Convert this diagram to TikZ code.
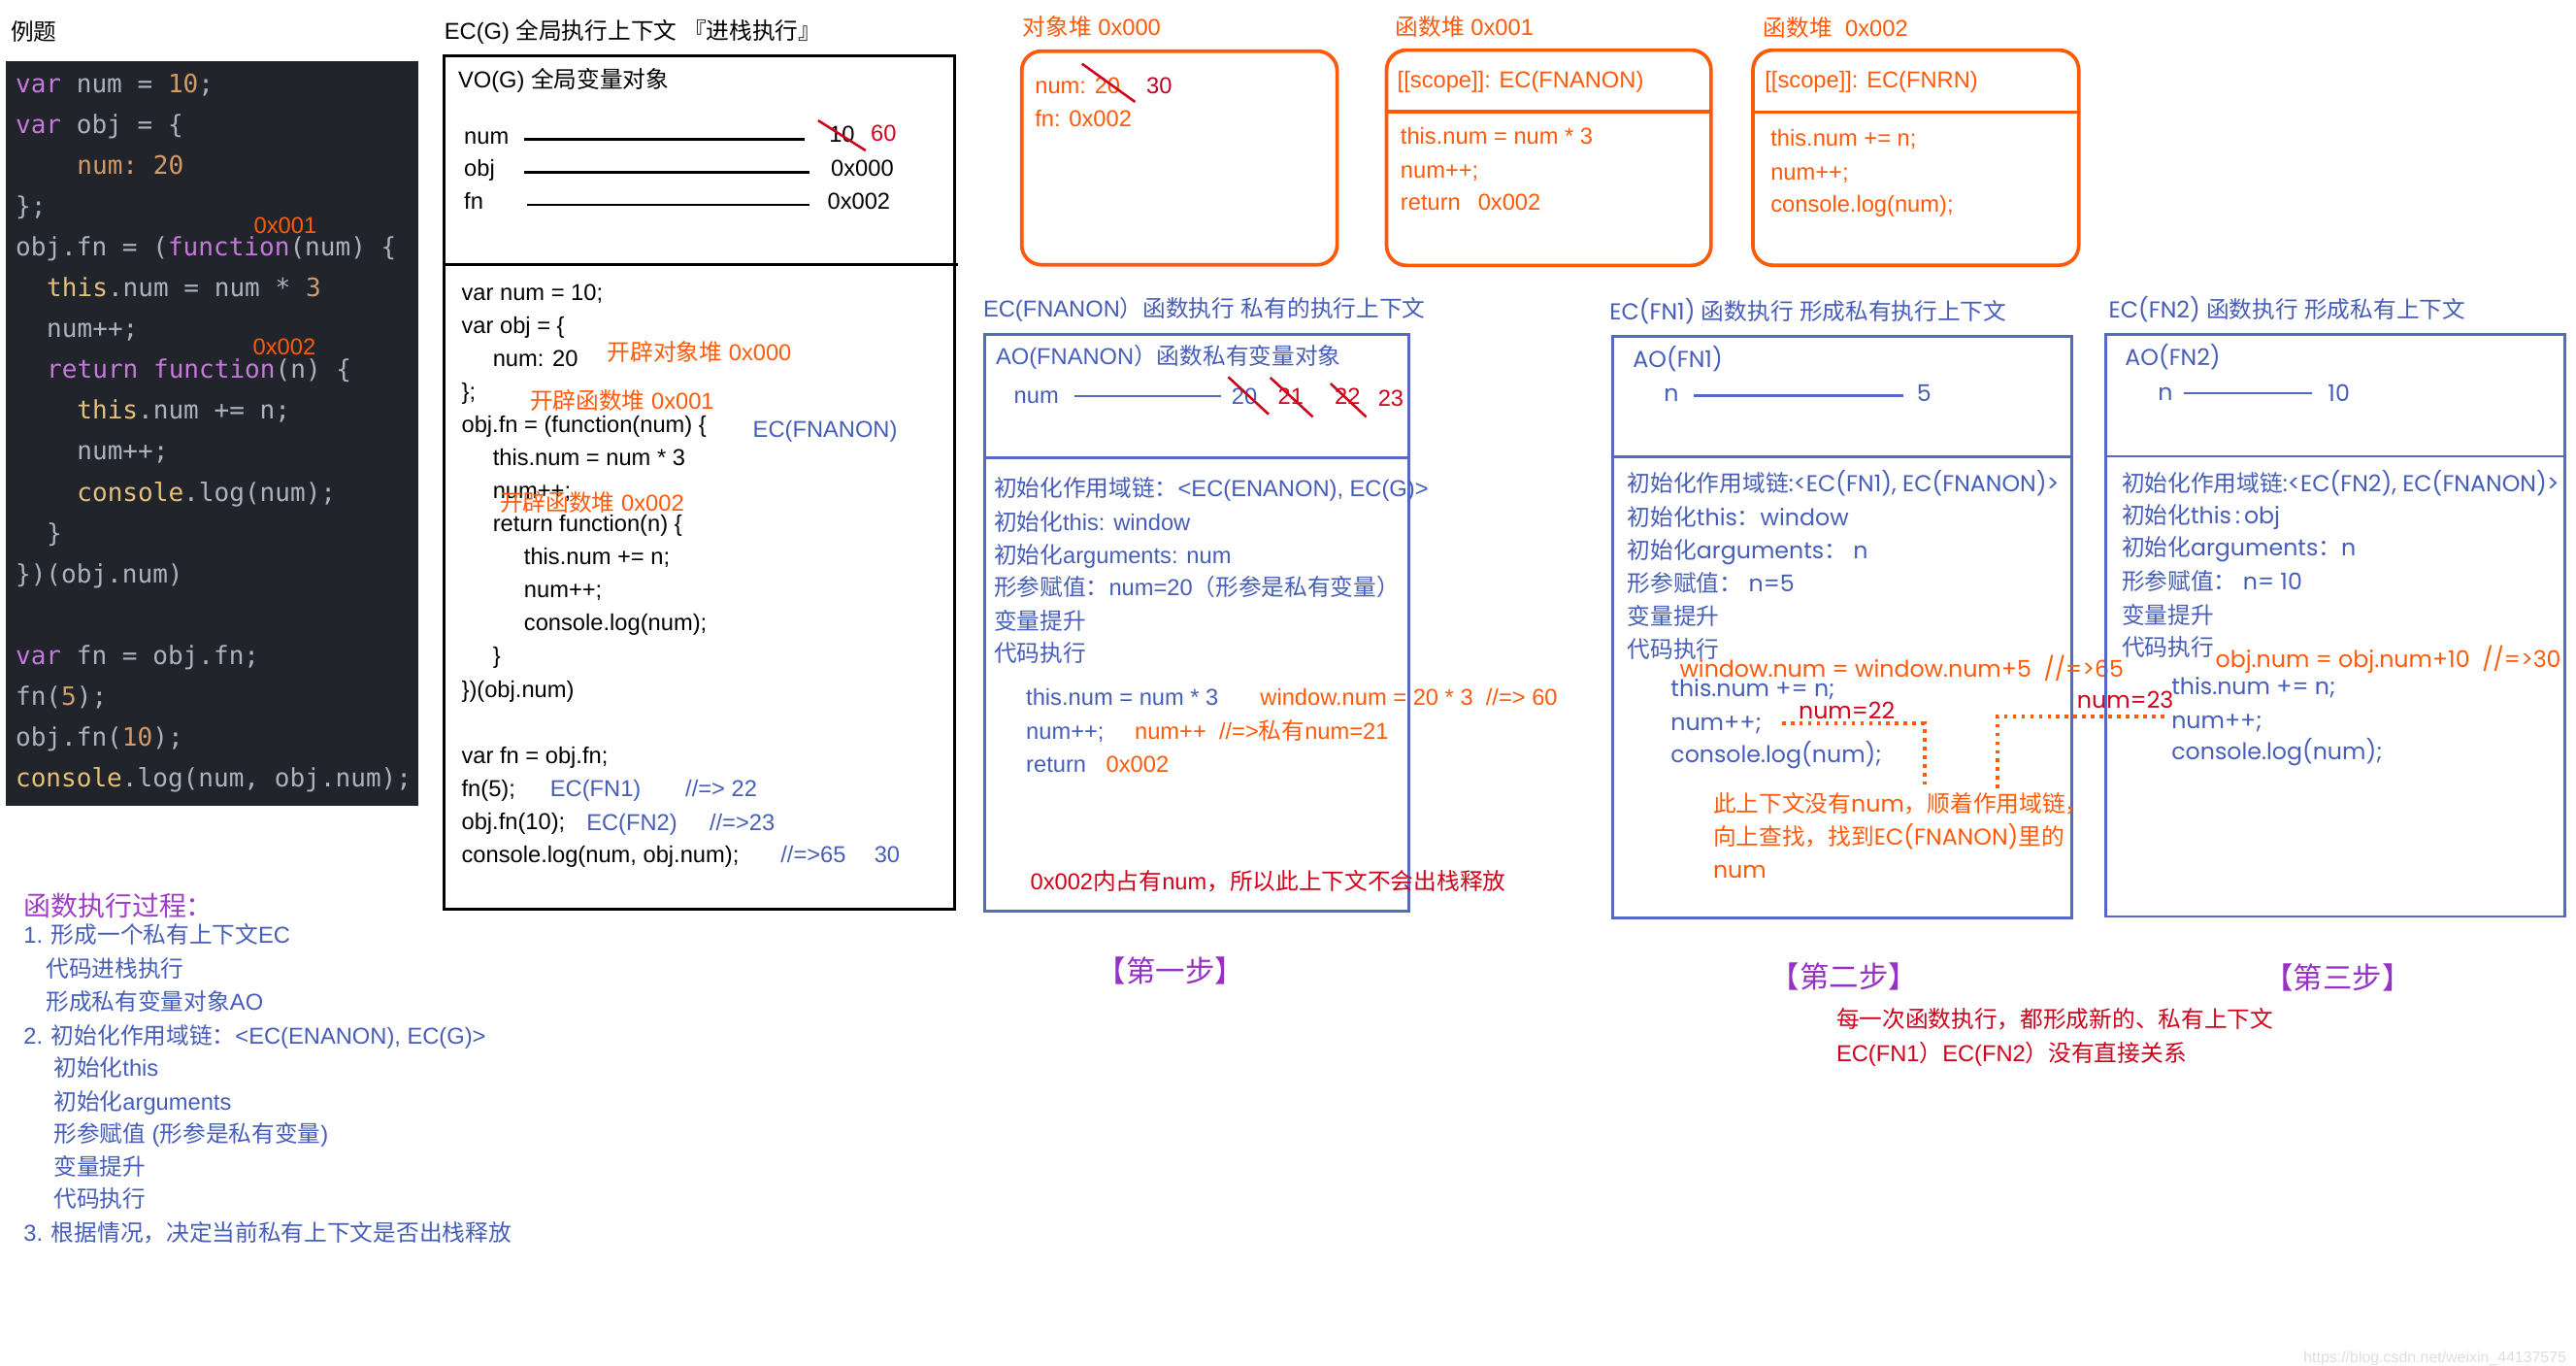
\documentclass[tikz,border=0pt]{standalone}
\usepackage{fontspec}
\setmainfont{Liberation Sans}
\setmonofont{DejaVu Sans Mono}
\newfontfamily\cjkfont{Noto Sans CJK SC}
\newfontfamily\geofont{Poppins}
\def\LatinFont{\rmfamily}
\XeTeXinterchartokenstate=1
\newXeTeXintercharclass\CJKcls
\newcount\cjkc
\def\setcjkrange#1#2{\cjkc=#1\relax\loop\XeTeXcharclass\cjkc=\CJKcls\relax\ifnum\cjkc<#2\advance\cjkc by 1\repeat}
\setcjkrange{"3000}{"303F}
\setcjkrange{"4E00}{"9FFF}
\setcjkrange{"FF00}{"FFEF}
\XeTeXinterchartoks 0 \CJKcls = {\cjkfont}
\XeTeXinterchartoks 4095 \CJKcls = {\cjkfont}
\XeTeXinterchartoks \CJKcls 0 = {\LatinFont}
\XeTeXinterchartoks \CJKcls 4095 = {\LatinFont}

\definecolor{ornge}{RGB}{255,90,10}
\definecolor{redd}{RGB}{208,2,27}
\definecolor{redthirty}{RGB}{190,0,40}
\definecolor{blu}{RGB}{70,94,184}
\definecolor{bluline}{RGB}{84,106,192}
\definecolor{purp}{RGB}{150,50,195}
\definecolor{purph}{RGB}{160,60,200}
\definecolor{codebg}{RGB}{33,36,43}
\definecolor{ckwc}{RGB}{198,120,221}
\definecolor{cgr}{RGB}{171,178,191}
\definecolor{cnmc}{RGB}{209,154,102}
\definecolor{cylc}{RGB}{229,192,123}
\definecolor{wmc}{RGB}{222,222,222}

\newcommand\ckw[1]{\textcolor{ckwc}{#1}}
\newcommand\cnm[1]{\textcolor{cnmc}{#1}}
\newcommand\cyl[1]{\textcolor{cylc}{#1}}
\newcommand\tnode[4][]{\node[txt,#1] (#2) at (#3) {#4};}
\newcommand\codeln[3]{\node[codetxt] (#1) at (#2) {#3};}

\tikzset{
  txt/.style={anchor=base west, inner sep=0pt, outer sep=0pt, yshift=-5pt, font=\fontsize{14}{16}\selectfont},
  geo/.style={font={\fontsize{14}{16}\selectfont\geofont\def\LatinFont{\geofont}}},
  codetxt/.style={anchor=base west, inner sep=0pt, outer sep=0pt, yshift=-5pt, text=cgr, font=\ttfamily\fontsize{15.4}{18}\selectfont},
  stepl/.style={text=purp, yshift=-6.5pt, font=\fontsize{18}{20}\selectfont},
  headl/.style={text=purph, yshift=-6pt, font=\fontsize{16.5}{18}\selectfont},
  wmark/.style={text=wmc, yshift=-3.4pt, font=\fontsize{9.4}{11}\selectfont},
  gbox/.style={draw=black, line width=1.8pt},
  vline/.style={draw=black, line width=1.5pt},
  hbox/.style={draw=ornge, line width=2.2pt, rounded corners=12pt},
  hline/.style={draw=ornge, line width=2.2pt},
  bbox/.style={draw=bluline, line width=1.7pt},
  bline/.style={draw=bluline, line width=1.3pt},
  strike/.style={draw=redd, line width=1.5pt},
  dotl/.style={draw=ornge, line width=2.3pt, dash pattern=on 2.2pt off 3.1pt},
}

\begin{document}
\begin{tikzpicture}[x=1pt,y=-1pt]
\useasboundingbox (0,0) rectangle (1568,831);
\fill[white] (0,0) rectangle (1568,831);

% ---------------- left: code ----------------
\tnode{lt}{6.5,19.7}{例题}
\fill[codebg] (3.5,37.2) rectangle (254.6,490.4);
\codeln{c0}{9.5,51.2}{\ckw{var} num = \cnm{10};}
\codeln{c1}{9.5,76.1}{\ckw{var} obj = \{}
\codeln{c2}{46.9,100.9}{\cnm{num: 20}}
\codeln{c3}{9.5,125.8}{\};}
\codeln{c4}{9.5,150.7}{obj.fn = (\ckw{function}(num) \{}
\codeln{c5}{28.5,175.6}{\cyl{this}.num = num * \cnm{3}}
\codeln{c6}{28.5,200.4}{num++;}
\codeln{c7}{28.5,225.3}{\ckw{return} \ckw{function}(n) \{}
\codeln{c8}{46.9,250.2}{\cyl{this}.num += n;}
\codeln{c9}{46.9,275.0}{num++;}
\codeln{c10}{46.9,299.9}{\cyl{console}.log(num);}
\codeln{c11}{28.5,324.8}{\}}
\codeln{c12}{9.5,349.6}{\})(obj.num)}
\codeln{c14}{9.5,399.4}{\ckw{var} fn = obj.fn;}
\codeln{c15}{9.5,424.2}{fn(\cnm{5});}
\codeln{c16}{9.5,449.1}{obj.fn(\cnm{10});}
\codeln{c17}{9.5,474.0}{\cyl{console}.log(num, obj.num);}
\tnode[ornge]{a1}{154.6,137.3}{0x001}
\tnode[ornge]{a2}{154,211.1}{0x002}

% ---------------- left: list ----------------
\tnode[headl]{lh}{14.4,546.5}{函数执行过程：}
\tnode[blu]{l1}{14.4,569.1}{1. 形成一个私有上下文EC}
\tnode[blu]{l2}{28,589.8}{代码进栈执行}
\tnode[blu]{l3}{28,609.5}{形成私有变量对象AO}
\tnode[blu]{l4}{14.4,630.2}{2. 初始化作用域链：<EC(ENANON), EC(G)>}
\tnode[blu]{l5}{32.7,649.9}{初始化this}
\tnode[blu]{l6}{32.7,670.6}{初始化arguments}
\tnode[blu]{l7}{32.7,690.3}{形参赋值 (形参是私有变量)}
\tnode[blu]{l8}{32.7,710}{变量提升}
\tnode[blu]{l9}{32.7,729.6}{代码执行}
\tnode[blu]{l10}{14.4,750.3}{3. 根据情况，决定当前私有上下文是否出栈释放}

% ---------------- global EC ----------------
\tnode{gt}{270.5,18.7}{EC(G) 全局执行上下文 『进栈执行』}
\draw[gbox] (270.5,33.9) rectangle (581.1,553.4);
\draw[gbox] (270.5,160.9) -- (583,160.9);
\tnode{vo}{278.9,48.3}{VO(G) 全局变量对象}
\tnode{vnum}{282.5,82.7}{num}
\draw[vline] (319,84.7) -- (490,84.7);
\tnode{vten}{504.7,81.7}{10}
\draw[strike] (498,73.3) -- (526.9,91.6);
\tnode[redd]{vsixty}{530,80.8}{60}
\tnode{vobj}{282.5,102.4}{obj}
\draw[vline] (319,104.8) -- (492.5,104.8);
\tnode{vobjv}{505.8,102.4}{0x000}
\tnode{vfn}{282.5,122.5}{fn}
\draw[vline] (320.7,124.7) -- (492.5,124.7);
\tnode{vfnv}{503.7,122.5}{0x002}

\tnode{g0}{281,178}{var num = 10;}
\tnode{g1}{281,198.1}{var obj = \{}
\tnode{g2}{300,218.2}{num: 20}
\tnode{g3}{281,238.3}{\};}
\tnode{g4}{281,258.4}{obj.fn = (function(num) \{}
\tnode{g5}{300,278.5}{this.num = num * 3}
\tnode{g6}{300,298.6}{num++;}
\tnode{g7}{300,318.7}{return function(n) \{}
\tnode{g8}{319,338.8}{this.num += n;}
\tnode{g9}{319,358.9}{num++;}
\tnode{g10}{319,379}{console.log(num);}
\tnode{g11}{300,399.1}{\}}
\tnode{g12}{281,419.2}{\})(obj.num)}
\tnode{g14}{281,459.4}{var fn = obj.fn;}
\tnode{g15}{281,479.5}{fn(5);}
\tnode{g16}{281,499.6}{obj.fn(10);}
\tnode{g17}{281,519.7}{console.log(num, obj.num);}

\tnode[ornge]{ga1}{369.7,214.7}{开辟对象堆 0x000}
\tnode[ornge]{ga2}{322.6,244.2}{开辟函数堆 0x001}
\tnode[blu]{ga3}{458.3,261}{EC(FNANON)}
\tnode[ornge]{ga4}{304.3,306.2}{开辟函数堆 0x002}
\tnode[blu]{ga5}{334.9,479.5}{EC(FN1)}
\tnode[blu]{ga6}{417.2,479.5}{//=> 22}
\tnode[blu]{ga7}{357,500.2}{EC(FN2)}
\tnode[blu]{ga8}{431.9,500.2}{//=>23}
\tnode[blu]{ga9}{475.2,519.9}{//=>65}
\tnode[blu]{ga10}{532.2,519.9}{30}

% ---------------- heaps ----------------
\tnode[ornge]{h0t}{622.5,16.7}{对象堆 0x000}
\draw[hbox] (621.9,31.1) rectangle (813.9,161.1);
\tnode[ornge]{h0a}{630,52.2}{num: 20}
\draw[strike] (658.6,38.8) -- (690.9,62);
\tnode[redthirty]{h0b}{697.8,52.2}{30}
\tnode[ornge]{h0c}{630,72.3}{fn: 0x002}

\tnode[ornge]{h1t}{849.4,16.7}{函数堆 0x001}
\draw[hbox] (844,30.5) rectangle (1041.5,161.5);
\draw[hline] (844,67.9) -- (1041.5,67.9);
\tnode[ornge]{h1a}{850.6,48.3}{[[scope]]: EC(FNANON)}
\tnode[ornge]{h1b}{852.5,82.7}{this.num = num * 3}
\tnode[ornge]{h1c}{852.5,103.4}{num++;}
\tnode[ornge]{h1d}{852.5,123.1}{return\hspace{10.6pt}0x002}

\tnode[ornge]{h2t}{1073.3,17.3}{函数堆\hspace{7.9pt}0x002}
\draw[hbox] (1067,30.5) rectangle (1265.3,161.4);
\draw[hline] (1067,68.3) -- (1265.3,68.3);
\tnode[ornge]{h2a}{1074.3,48.3}{[[scope]]: EC(FNRN)}
\tnode[ornge]{h2b}{1077.8,83.7}{this.num += n;}
\tnode[ornge]{h2c}{1077.8,104.4}{num++;}
\tnode[ornge]{h2d}{1077.8,124}{console.log(num);}

% ---------------- EC(FNANON) ----------------
\tnode[blu]{s1t}{598.5,188}{EC(FNANON）函数执行 私有的执行上下文}
\draw[bbox] (599.2,203.4) rectangle (857.8,554.4);
\draw[bbox] (599.2,278.7) -- (857.8,278.7);
\tnode[blu]{s1a}{606.2,216.6}{AO(FNANON）函数私有变量对象}
\tnode[blu]{s1n}{617.2,240.3}{num}
\draw[bline] (654.3,241.2) -- (743.3,241.2);
\tnode[blu]{s1v0}{749.7,241}{20}
\draw[strike] (747.6,229.4) -- (772.2,252.1);
\tnode[redd]{s1v1}{777.9,241}{21}
\draw[strike] (773.2,229.8) -- (799.1,253.7);
\tnode[redd]{s1v2}{812.4,241}{22}
\draw[strike] (809.9,233.4) -- (831.6,253.7);
\tnode[redd]{s1v3}{838.8,242}{23}
\tnode[blu]{s1l1}{605,297.4}{初始化作用域链：<EC(ENANON), EC(G)>}
\tnode[blu]{s1l2}{605,318}{初始化this: window}
\tnode[blu]{s1l3}{605,337.7}{初始化arguments: num}
\tnode[blu]{s1l4}{605,357.4}{形参赋值：num=20（形参是私有变量）}
\tnode[blu]{s1l5}{605,378.1}{变量提升}
\tnode[blu]{s1l6}{605,397.8}{代码执行}
\tnode[blu]{s1c1}{624.6,424.4}{this.num = num * 3}
\tnode[ornge]{s1c1b}{767.1,424.4}{window.num = 20 * 3 \ //=> 60}
\tnode[blu]{s1c2}{624.6,444.7}{num++;}
\tnode[ornge]{s1c2b}{690.7,444.7}{num++ \ //=>私有num=21}
\tnode[blu]{s1c3}{624.6,465.2}{return}
\tnode[ornge]{s1c3b}{673.3,465.2}{0x002}
\tnode[redd]{s1r}{627.2,536.6}{0x002内占有num，所以此上下文不会出栈释放}
\tnode[stepl]{s1s}{667.5,585.9}{【第一步】}

% ---------------- EC(FN1) ----------------
\tnode[blu,geo]{s2t}{979.8,189.8}{EC(FN1) 函数执行 形成私有执行上下文}
\draw[bbox] (981.6,204.8) rectangle (1261.2,558.4);
\draw[bbox] (981.6,278.2) -- (1261.2,278.2);
\tnode[blu,geo]{s2a}{994,218.8}{AO(FN1)}
\tnode[blu,geo]{s2n}{1012.9,239.4}{n}
\draw[bline] (1031,240.7) -- (1158.6,240.7);
\tnode[blu,geo]{s2v}{1166.8,239.4}{5}
\tnode[blu,geo]{s2l1}{990.7,294}{初始化作用域链:<EC(FN1), EC(FNANON)>}
\tnode[blu,geo]{s2l2}{990.7,315}{初始化this：window}
\tnode[blu,geo]{s2l3}{990.7,334.9}{初始化arguments： n}
\tnode[blu,geo]{s2l4}{990.7,355}{形参赋值： n=5}
\tnode[blu,geo]{s2l5}{990.7,375}{变量提升}
\tnode[blu,geo]{s2l6}{990.7,395}{代码执行}
\tnode[blu,geo]{s2c1}{1017,418.7}{this.num += n;}
\tnode[blu,geo]{s2c2}{1017,439.8}{num++;}
\tnode[blu,geo]{s2c3}{1017,458.8}{console.log(num);}
\tnode[ornge,geo]{s2w}{1022.4,406.9}{window.num = window.num+5 \ //=>65}
\tnode[redd,geo]{s2r}{1094.8,432.5}{num=22}
\tnode[redd,geo]{s2rr}{1264.3,425.9}{num=23}
\coordinate (d1a) at (1084.6,440.4);
\coordinate (d1b) at (1171.3,440.4);
\coordinate (d1c) at (1171.3,477.3);
\draw[dotl] (d1a) -- (d1b) -- (d1c);
\coordinate (d2a) at (1216,479.8);
\coordinate (d2b) at (1216,435.9);
\coordinate (d2c) at (1318.7,435.9);
\draw[dotl] (d2a) -- (d2b) -- (d2c);
\tnode[ornge,geo]{s2o1}{1042.8,489.2}{此上下文没有num，顺着作用域链，}
\tnode[ornge,geo]{s2o2}{1042.8,509}{向上查找，找到EC(FNANON)里的}
\tnode[ornge,geo]{s2o3}{1042.8,529.3}{num}
\tnode[stepl]{s2s}{1077.5,589.8}{【第二步】}

% ---------------- EC(FN2) ----------------
\tnode[blu,geo]{s3t}{1283.6,188.5}{EC(FN2) 函数执行 形成私有上下文}
\draw[bbox] (1281.6,203.5) rectangle (1561.3,557.7);
\draw[bbox] (1281.6,277.7) -- (1561.3,277.7);
\tnode[blu,geo]{s3a}{1293.5,217.5}{AO(FN2)}
\tnode[blu,geo]{s3n}{1313.5,238.6}{n}
\draw[bline] (1329.3,239.1) -- (1407,239.1);
\tnode[blu,geo]{s3v}{1417,239}{10}
\tnode[blu,geo]{s3l1}{1291.5,294}{初始化作用域链:<EC(FN2), EC(FNANON)>}
\tnode[blu,geo]{s3l2}{1291.5,313.7}{初始化this\thinspace:\thinspace obj}
\tnode[blu,geo]{s3l3}{1291.5,333.5}{初始化arguments：n}
\tnode[blu,geo]{s3l4}{1291.5,353.8}{形参赋值： n= 10}
\tnode[blu,geo]{s3l5}{1291.5,374.5}{变量提升}
\tnode[blu,geo]{s3l6}{1291.5,394.2}{代码执行}
\tnode[ornge,geo]{s3w}{1348.6,401.3}{obj.num = obj.num+10 \ //=>30}
\tnode[blu,geo]{s3c1}{1321.8,418}{this.num += n;}
\tnode[blu,geo]{s3c2}{1321.8,438.3}{num++;}
\tnode[blu,geo]{s3c3}{1321.8,457.5}{console.log(num);}
\tnode[stepl]{s3s}{1378,590}{【第三步】}

% ---------------- notes ----------------
\tnode[redd]{n1}{1117.8,620.3}{每一次函数执行，都形成新的、私有上下文}
\tnode[redd]{n2}{1117.8,641}{EC(FN1）EC(FN2）没有直接关系}
\tnode[wmark]{wm}{1402.2,820.8}{https://blog.csdn.net/weixin\_44137575}
\end{tikzpicture}
\end{document}
